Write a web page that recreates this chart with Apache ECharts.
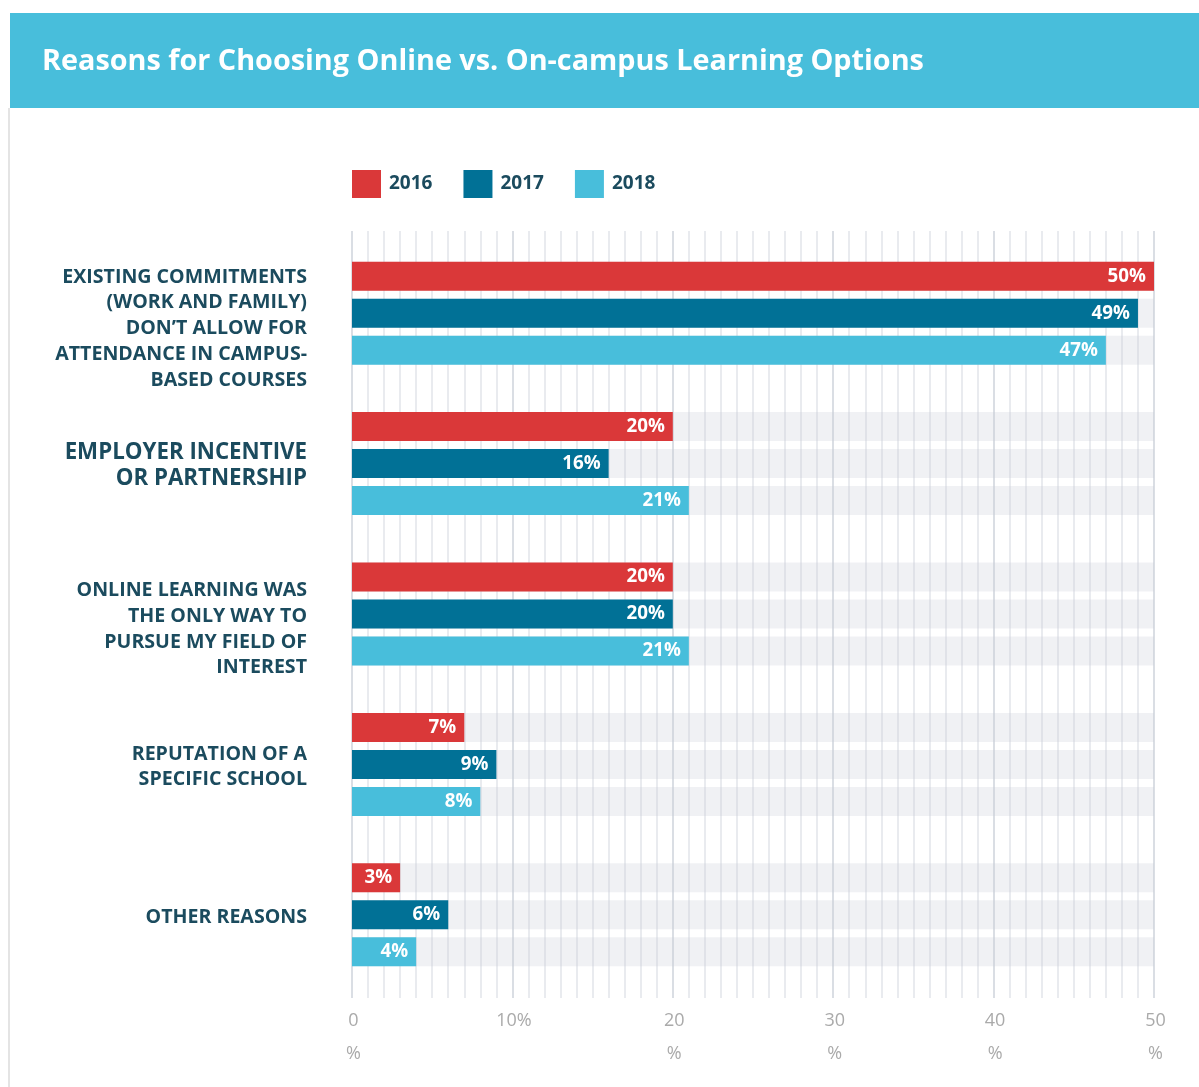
<!DOCTYPE html>
<html>
<head>
<meta charset="utf-8">
<script src="https://cdn.jsdelivr.net/npm/echarts@6/dist/echarts.min.js"></script>
<style>
  html, body { margin: 0; padding: 0; background: #fff; }
  #container { width: 1199px; height: 1087px; }
</style>
</head>
<body>
<div id="container"></div>
<script>
// categories (top to bottom)
var categories = [
  'EXISTING COMMITMENTS\n(WORK AND FAMILY)\nDON\u2019T ALLOW FOR\nATTENDANCE IN CAMPUS-\nBASED COURSES',
  'EMPLOYER INCENTIVE\nOR PARTNERSHIP',
  'ONLINE LEARNING WAS\nTHE ONLY WAY TO\nPURSUE MY FIELD OF\nINTEREST',
  'REPUTATION OF A\nSPECIFIC SCHOOL',
  'OTHER REASONS'
];
var years = ['2016', '2017', '2018'];
var values2016 = [50, 20, 20, 7, 3];
var values2017 = [49, 16, 20, 9, 6];
var values2018 = [47, 21, 21, 8, 4];
var xTicks = [0, 10, 20, 30, 40, 50];

var colors = ['#da3839', '#017196', '#48bedb'];
var textColor = '#1b4b5e';

var dom = document.getElementById('container');
var myChart = echarts.init(dom);

function makeSeries(name, data, color) {
  return {
    name: name,
    type: 'bar',
    xAxisIndex: 0,
    yAxisIndex: 0,
    data: data,
    barWidth: 29,
    barGap: '27.6%',
    itemStyle: { color: color },
    showBackground: true,
    backgroundStyle: { color: 'rgba(200,205,215,0.27)' },
    label: {
      show: true,
      position: 'insideRight',
      distance: 8,
      formatter: '{c}%',
      color: '#fff',
      fontFamily: 'Open Sans',
      fontWeight: 'bold',
      fontSize: 18.8,
      padding: [5, 0, 0, 0]
    }
  };
}

var option = {
  animation: false,
  color: colors,
  graphic: [
    { type: 'rect', shape: { x: 10, y: 13, width: 1189, height: 95 }, style: { fill: '#48bedb' } },
    { type: 'rect', shape: { x: 8, y: 108, width: 2, height: 979 }, style: { fill: '#e4e4e4' } },
    {
      type: 'text', x: 42, y: 62,
      style: {
        text: 'Reasons for Choosing Online vs. On-campus Learning Options',
        fill: '#fff', font: 'bold 28.8px "Open Sans"', textVerticalAlign: 'middle'
      }
    }
  ],
  legend: {
    data: years,
    left: 352,
    top: 170,
    padding: 0,
    icon: 'rect',
    itemWidth: 29,
    itemHeight: 28,
    itemGap: 31,
    textStyle: {
      color: textColor,
      fontFamily: 'Open Sans',
      fontWeight: 'bold',
      fontSize: 19,
      padding: [4, 0, 0, 3]
    }
  },
  grid: [
    { left: 352, width: 802, top: 238, height: 752 },
    { left: 352, width: 802, top: 231, height: 767 }
  ],
  xAxis: [
    { gridIndex: 0, type: 'value', min: 0, max: 50, show: false },
    {
      gridIndex: 1, type: 'value', min: 0, max: 50, interval: 10,
      axisLine: { show: false },
      axisTick: { show: false },
      splitLine: { show: true, lineStyle: { color: '#dadee4', width: 2 } },
      minorTick: { show: false, splitNumber: 10 },
      minorSplitLine: { show: true, lineStyle: { color: '#e9ebef', width: 2 } },
      axisLabel: {
        margin: 6,
        color: '#aaaaaa',
        fontFamily: 'Open Sans',
        fontSize: 18,
        lineHeight: 33,
        padding: [0, 0, 0, 3],
        customValues: xTicks,
        formatter: function (v) {
          return v === 10 ? v + '%' : v + '\n%';
        }
      }
    }
  ],
  yAxis: [
    {
      gridIndex: 0,
      type: 'category',
      data: categories,
      inverse: true,
      axisLine: { show: false },
      axisTick: { show: false },
      splitLine: { show: false },
      axisLabel: {
        margin: 45,
        align: 'right',
        color: textColor,
        fontFamily: 'Open Sans',
        fontWeight: 'bold',
        fontSize: 19.6,
        lineHeight: 25.7,
        padding: [5, 0, 0, 0],
        formatter: function (v, i) {
          if (i === 1) {
            return v.split('\n').map(function (s) { return '{big|' + s + '}'; }).join('\n');
          }
          if (i === 0 || i === 2) return '\n' + v;
          return v;
        },
        rich: {
          big: {
            color: textColor,
            fontFamily: 'Open Sans',
            fontWeight: 'bold',
            fontSize: 22.3,
            lineHeight: 26
          }
        }
      }
    },
    { gridIndex: 1, type: 'value', show: false }
  ],
  series: [
    makeSeries(years[0], values2016, colors[0]),
    makeSeries(years[1], values2017, colors[1]),
    makeSeries(years[2], values2018, colors[2])
  ]
};

myChart.setOption(option);
</script>
</body>
</html>
